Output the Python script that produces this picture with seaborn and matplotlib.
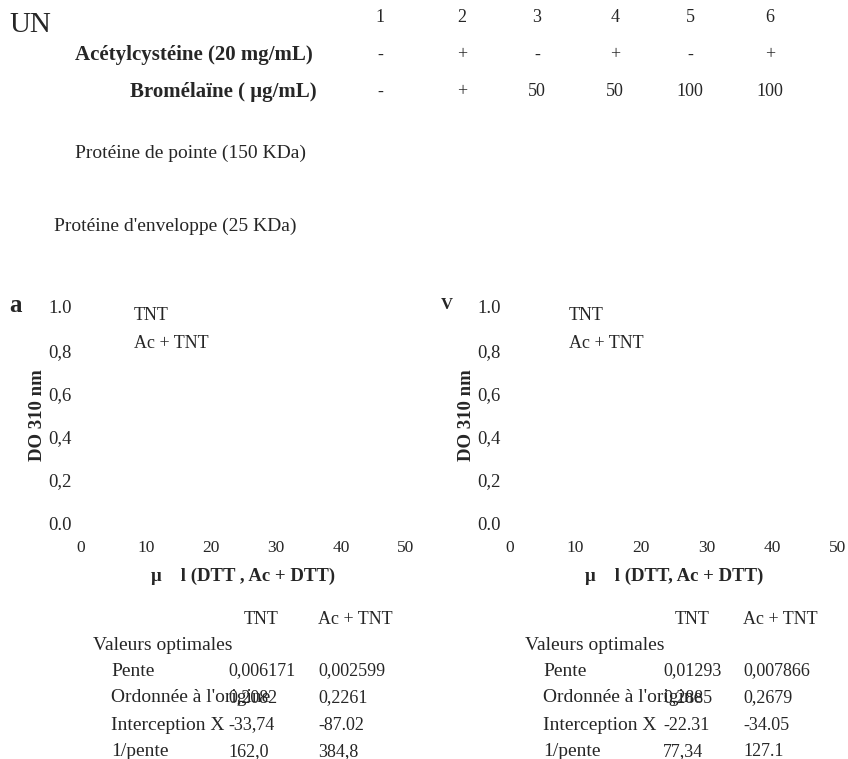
import matplotlib
matplotlib.use("Agg")
import matplotlib.pyplot as plt
import seaborn as sns
import pandas as pd

# Gel lane legend
lanes = ["1", "2", "3", "4", "5", "6"]
acetylcysteine = ["-", "+", "-", "+", "-", "+"]
bromelain = ["-", "+", "50", "50", "100", "100"]
lane_x = [380, 462, 537, 615, 690, 770]

# Lineweaver-Burk panels
x_ticks = [0, 10, 20, 30, 40, 50]
y_ticks = [0.0, 0.2, 0.4, 0.6, 0.8, 1.0]
y_tick_labels = ["0.0", "0,2", "0,4", "0,6", "0,8", "1.0"]
series = ["TNT", "Ac + TNT"]

# Fit tables
row_names = ["Pente", "Ordonnée à l'origine", "Interception X", "1/pente"]
fit_a_tnt = ["0,006171", "0,2082", "-33,74", "162,0"]
fit_a_ac = ["0,002599", "0,2261", "-87.02", "384,8"]
fit_b_tnt = ["0,01293", "0,2885", "-22.31", "77,34"]
fit_b_ac = ["0,007866", "0,2679", "-34.05", "127.1"]

W, H = 848, 759
sns.set_theme(style="white")
plt.rcParams["font.family"] = ["Liberation Serif", "DejaVu Serif"]

fig = plt.figure(figsize=(W / 100, H / 100), dpi=100)


def ptext(x, y, s, **kw):
    kw.setdefault("va", "center")
    kw.setdefault("fontsize", 13)
    fig.text(x / W, 1 - y / H, s, **kw)


# Header block
ptext(9, 25, "UN", fontsize=21)
for x, s in zip(lane_x, lanes):
    ptext(x, 18, s, ha="center")
ptext(313, 55, "Acétylcystéine (20 mg/mL)", ha="right", fontweight="bold", fontsize=15)
ptext(317, 92, "Bromélaïne ( μg/mL)", ha="right", fontweight="bold", fontsize=15)
for x, s in zip(lane_x, acetylcysteine):
    ptext(x, 55, s, ha="center")
for x, s in zip(lane_x, bromelain):
    ptext(x, 92, s, ha="center")
ptext(75, 153, "Protéine de pointe (150 KDa)", fontsize=14)
ptext(54, 226, "Protéine d'enveloppe (25 KDa)", fontsize=14)


def panel(left_px, right_px, letter, letter_x, letter_kw, xlabel, legend_x):
    ax = fig.add_axes([left_px / W, (H - 523) / H,
                       (right_px - left_px) / W, (523 - 307) / H])
    sns.lineplot(data=pd.DataFrame({"x": [], "y": []}), x="x", y="y", ax=ax)
    ax.set_xlim(0, 50)
    ax.set_ylim(0, 1)
    ax.set_xticks(x_ticks)
    ax.set_xticklabels([str(t) for t in x_ticks])
    ax.set_yticks(y_ticks)
    ax.set_yticklabels(y_tick_labels)
    ax.tick_params(axis="both", length=0)
    ax.tick_params(axis="x", pad=12.5, labelsize=12.5)
    ax.tick_params(axis="y", pad=6.5, labelsize=13.5)
    sns.despine(ax=ax, left=True, bottom=True)
    ax.set_xlabel(xlabel, fontweight="bold", fontsize=13.5, labelpad=8)
    ax.set_ylabel("DO 310 nm", fontweight="bold", fontsize=13.5, labelpad=2)
    ax.text(legend_x, 0.96, series[0], transform=ax.transAxes, fontsize=13, va="center")
    ax.text(legend_x, 0.83, series[1], transform=ax.transAxes, fontsize=13, va="center")
    ptext(letter_x, 305, letter, fontweight="bold", **letter_kw)
    return ax


panel(81, 406, "a", 9, {"fontsize": 18}, "μ    l (DTT , Ac + DTT)", 0.163)
panel(510, 838, "V", 441, {"fontsize": 12}, "μ    l (DTT, Ac + DTT)", 0.18)


def table(x0, col1, col2, head1, vals1, vals2):
    ptext(head1, 619, series[0], ha="center")
    ptext(col2, 619, series[1])
    ptext(x0, 645, "Valeurs optimales", fontsize=14)
    for i, name in enumerate(row_names):
        y = 671 + 27 * i
        ptext(x0 + 18, y, name, fontsize=14)
        ptext(col1, y, vals1[i])
        ptext(col2, y, vals2[i])


table(93, 228, 318, 261, fit_a_tnt, fit_a_ac)
table(525, 663, 743, 692, fit_b_tnt, fit_b_ac)

fig.savefig("out.png", dpi=100, facecolor="white")
